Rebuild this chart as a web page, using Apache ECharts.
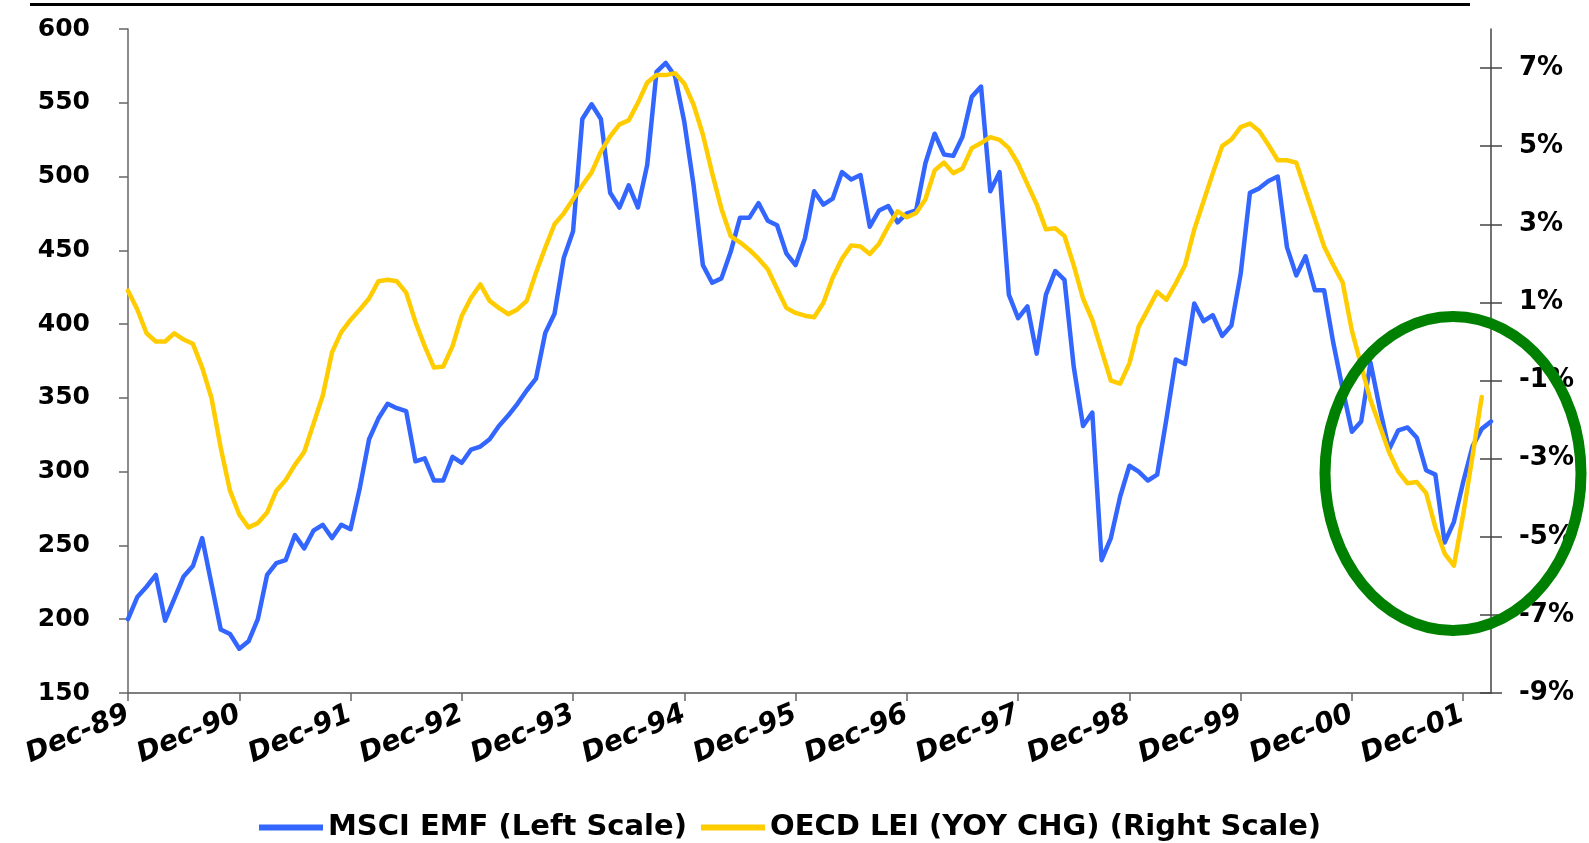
<!DOCTYPE html>
<html>
<head>
<meta charset="utf-8">
<script src="https://cdn.jsdelivr.net/npm/echarts@6/dist/echarts.min.js"></script>
<style>
  html, body { margin: 0; padding: 0; background: #fff; }
  #chart { width: 1589px; height: 843px; }
</style>
</head>
<body>
<div id="chart"></div>
<script>
// MSCI EMF index, monthly Dec-89 .. Mar-02 (left scale)
const MSCI_EMF = [
  200, 215, 222, 230, 199, 214, 229, 236, 255, 224, 193, 190,
  180, 185, 200, 230, 238, 240, 257, 248, 260, 264, 255, 264,
  261, 289, 322, 336, 346, 343, 341, 307, 309, 294, 294, 310,
  306, 315, 317, 322, 331, 338, 346, 355, 363, 394, 407, 445,
  463, 539, 549, 539, 489, 479, 494, 479, 508, 571, 577, 568,
  537, 494, 440, 428, 431, 449, 472, 472, 482, 470, 467, 448,
  440, 458, 490, 481, 485, 503, 498, 501, 466, 477, 480, 469,
  475, 477, 509, 529, 515, 514, 527, 554, 561, 490, 503, 420,
  404, 412, 380, 420, 436, 430, 371, 331, 340, 240, 255, 283,
  304, 300, 294, 298, 336, 376, 373, 414, 402, 406, 392, 399,
  434, 489, 492, 497, 500, 452, 433, 446, 423, 423, 387, 356,
  327, 334, 374, 343, 315, 328, 330, 323, 301, 298, 252, 266,
  293, 317, 329, 334
];

// OECD LEI, year-on-year change in %, monthly Dec-89 .. Feb-02 (right scale)
const OECD_LEI = [
  1.3, 0.82, 0.21, 0.0, 0.0, 0.21, 0.05, -0.06, -0.67, -1.44, -2.72, -3.82,
  -4.43, -4.76, -4.65, -4.38, -3.82, -3.55, -3.16, -2.83, -2.11, -1.39, -0.28, 0.24,
  0.55, 0.82, 1.1, 1.54, 1.58, 1.54, 1.25, 0.5, -0.12, -0.67, -0.64, -0.12,
  0.66, 1.12, 1.46, 1.04, 0.86, 0.7, 0.82, 1.04, 1.76, 2.4, 3.0, 3.28,
  3.64, 4.0, 4.33, 4.86, 5.25, 5.56, 5.66, 6.11, 6.63, 6.82, 6.82, 6.87,
  6.6, 6.06, 5.3, 4.31, 3.4, 2.7, 2.54, 2.35, 2.12, 1.85, 1.35, 0.86,
  0.73, 0.66, 0.62, 0.99, 1.63, 2.12, 2.46, 2.43, 2.24, 2.5, 2.95, 3.33,
  3.18, 3.29, 3.64, 4.38, 4.58, 4.31, 4.43, 4.95, 5.08, 5.23, 5.16, 4.95,
  4.55, 4.03, 3.51, 2.87, 2.9, 2.7, 1.95, 1.1, 0.55, -0.23, -1.0, -1.08,
  -0.56, 0.38, 0.82, 1.27, 1.07, 1.49, 1.95, 2.87, 3.59, 4.31, 5.0, 5.17,
  5.49, 5.58, 5.39, 5.03, 4.64, 4.64, 4.58, 3.86, 3.15, 2.43, 1.95, 1.51,
  0.27, -0.61, -1.5, -2.16, -2.83, -3.33, -3.63, -3.6, -3.88, -4.76, -5.43, -5.74,
  -4.43, -2.94, -1.42
];

const MONTH_NAMES = ["Jan", "Feb", "Mar", "Apr", "May", "Jun", "Jul", "Aug", "Sep", "Oct", "Nov", "Dec"];
const RIGHT_TICKS = [-9, -7, -5, -3, -1, 1, 3, 5, 7];
const SERIES_NAMES = ["MSCI EMF (Left Scale)", "OECD LEI (YOY CHG) (Right Scale)"];

// month categories starting Dec-89
const months = [];
for (let i = 0; i < MSCI_EMF.length; i++) {
  const m = (11 + i) % 12;
  const y = (1989 + Math.floor((11 + i) / 12)) % 100;
  months.push(MONTH_NAMES[m] + "-" + String(y).padStart(2, "0"));
}

const FONT = "DejaVu Sans";
const axisGray = "#666";

const chart = echarts.init(document.getElementById("chart"), null, { renderer: "canvas" });
chart.setOption({
  animation: false,
  backgroundColor: "#fff",
  grid: { left: 128, right: 98, top: 29, bottom: 150, containLabel: false, outerBoundsMode: "none" },
  legend: {
    data: SERIES_NAMES,
    left: 254, top: 808,
    icon: "rect", itemWidth: 64, itemHeight: 6, itemGap: 14,
    textStyle: { color: "#000", fontFamily: FONT, fontWeight: "bold", fontSize: 29 }
  },
  xAxis: {
    type: "category", data: months, boundaryGap: false,
    axisLine: { onZero: false, lineStyle: { color: "#555", width: 1.5 } },
    axisTick: { interval: 11, length: 8, lineStyle: { color: axisGray, width: 1.5 } },
    axisLabel: {
      interval: 11, rotate: 23, margin: 20,
      color: "#000", fontFamily: FONT, fontWeight: "bold", fontStyle: "italic", fontSize: 28
    },
    splitLine: { show: false }
  },
  yAxis: [
    {
      type: "value", position: "left", min: 150, max: 600, interval: 50,
      axisLine: { show: true, lineStyle: { color: axisGray, width: 1.5 } },
      axisTick: { show: true, length: 9, lineStyle: { color: axisGray, width: 1.5 } },
      axisLabel: { margin: 38, color: "#000", fontFamily: FONT, fontWeight: "bold", fontSize: 25 },
      splitLine: { show: false }
    },
    {
      type: "value", position: "right", min: -9, max: 8, interval: 2,
      axisLine: { show: true, lineStyle: { color: "#444", width: 1.5 } },
      axisTick: { show: true, inside: true, length: 11, customValues: RIGHT_TICKS, lineStyle: { color: "#444", width: 1.5 } },
      axisLabel: {
        margin: 28, customValues: RIGHT_TICKS, formatter: "{value}%",
        color: "#000", fontFamily: FONT, fontWeight: "bold", fontSize: 26
      },
      splitLine: { show: false }
    },
    {
      // outer half of the crossing ticks on the right scale
      type: "value", position: "right", min: -9, max: 8, interval: 2,
      axisLine: { show: false },
      axisTick: { show: true, length: 11, customValues: RIGHT_TICKS, lineStyle: { color: "#444", width: 1.5 } },
      axisLabel: { show: false },
      splitLine: { show: false }
    }
  ],
  series: [
    {
      name: SERIES_NAMES[0], type: "line", yAxisIndex: 0, data: MSCI_EMF,
      showSymbol: false, symbol: "none",
      itemStyle: { color: "#3366ff" },
      lineStyle: { color: "#3366ff", width: 4.5, join: "round", cap: "round" }
    },
    {
      name: SERIES_NAMES[1], type: "line", yAxisIndex: 1, data: OECD_LEI,
      showSymbol: false, symbol: "none",
      itemStyle: { color: "#ffcc00" },
      lineStyle: { color: "#ffcc00", width: 4.5, join: "round", cap: "round" }
    }
  ],
  graphic: [
    { type: "line", shape: { x1: 30, y1: 4.5, x2: 1470, y2: 4.5 }, style: { stroke: "#000", lineWidth: 3 } },
    { type: "ellipse", z: 100, shape: { cx: 1453, cy: 473.5, rx: 128, ry: 157 },
      style: { fill: null, stroke: "#008000", lineWidth: 11 } }
  ]
});
</script>
</body>
</html>
